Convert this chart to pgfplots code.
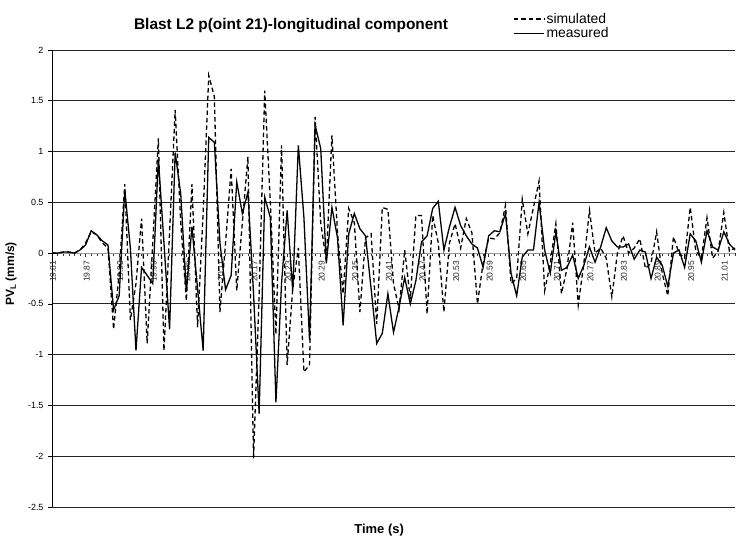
\documentclass[border=0pt]{standalone}
\usepackage{fontspec}
\setmainfont{Liberation Sans}
\usepackage{pgfplots}
\usepackage{pgfplotstable}
\pgfplotsset{compat=1.18}

% columns: category index (0 = 19.81 s, step 0.01 s), simulated, measured
\pgfplotstableread{
i   sim    meas
0   0.00   0.00
1   0.00   0.00
2   0.01   0.01
3   0.01   0.01
4   0.00   0.00
5   0.03   0.03
6   0.10   0.08
7   0.21   0.22
8   0.18   0.18
9   0.10   0.12
10  0.05   0.08
11  -0.75  -0.56
12  -0.20  -0.42
13  0.68   0.62
14  -0.66  0.05
15  -0.30  -0.96
16  0.34   -0.14
17  -0.89  -0.22
18  0.10   -0.30
19  1.13   0.93
20  -0.96  0.10
21  0.20   -0.75
22  1.41   0.99
23  0.30   0.58
24  -0.47  -0.38
25  0.68   0.26
26  -0.73  -0.35
27  0.40   -0.96
28  1.75   1.14
29  1.54   1.09
30  -0.58  0.10
31  0.10   -0.36
32  0.83   -0.22
33  -0.37  0.70
34  0.30   0.39
35  0.95   0.60
36  -2.02  -0.40
37  -0.40  -1.58
38  1.60   0.55
39  0.50   0.35
40  -0.80  -1.47
41  1.06   -0.30
42  -1.10  0.42
43  -0.35  -0.37
44  0.05   1.06
45  -1.17  0.35
46  -1.10  -0.86
47  1.34   1.26
48  0.30   1.03
49  -0.08  -0.10
50  1.16   0.45
51  0.20   0.15
52  -0.40  -0.71
53  0.44   0.19
54  0.30   0.39
55  -0.58  0.24
56  0.15   0.17
57  0.19   -0.35
58  -0.70  -0.89
59  0.45   -0.79
60  0.43   -0.40
61  -0.30  -0.78
62  -0.55  -0.53
63  0.03   -0.24
64  -0.45  -0.50
65  0.37   -0.27
66  0.37   0.11
67  -0.60  0.17
68  0.37   0.44
69  0.10   0.51
70  -0.58  0.03
71  0.10   0.26
72  0.29   0.45
73  0.05   0.27
74  0.34   0.17
75  0.20   0.09
76  -0.50  0.05
77  -0.10  -0.14
78  0.15   0.17
79  0.14   0.22
80  0.20   0.21
81  0.47   0.39
82  -0.30  -0.20
83  -0.25  -0.42
84  0.53   -0.04
85  0.19   0.03
86  0.45   0.03
87  0.71   0.50
88  -0.37  0.03
89  -0.10  -0.20
90  0.29   0.21
91  -0.40  -0.17
92  -0.15  -0.14
93  0.30   -0.02
94  -0.51  -0.25
95  -0.10  -0.12
96  0.42   0.06
97  0.00   -0.09
98  0.05   0.06
99  -0.05  0.25
100 -0.43  0.12
101 0.00   0.06
102 0.17   0.06
103 0.00   0.09
104 0.05   -0.06
105 0.14   0.03
106 -0.15  0.01
107 -0.10  -0.25
108 0.21   -0.04
109 -0.20  -0.12
110 -0.42  -0.33
111 0.16   0.00
112 0.00   0.03
113 -0.05  -0.14
114 0.45   0.19
115 0.02   0.12
116 -0.05  -0.09
117 0.35   0.22
118 -0.05  0.06
119 0.02   0.03
120 0.40   0.21
121 0.02   0.09
122 0.05   0.03
}\blastdata

\begin{document}
\begin{tikzpicture}
\begin{axis}[
    scale only axis,
    width=683bp, height=457bp,
    xmin=0, xmax=122,
    ymin=-2.5, ymax=2,
    axis y line=left,
    axis x line=middle,
    axis line style={-},
    x axis line style={gray!80, line width=1pt},
    y axis line style={black, line width=0.7pt},
    major tick length=4bp,
    minor tick length=3bp,
    hide obscured x ticks=false,
    xtick={0,6,...,120},
    xticklabels={19.81,19.87,19.93,19.99,20.05,20.11,20.17,20.23,20.29,20.35,20.41,20.47,20.53,20.59,20.65,20.71,20.77,20.83,20.89,20.95,21.01},
    minor xtick={0,1,...,122},
    x tick style={black!80, line width=0.5pt},
    xtick align=outside,
    ytick align=outside,
    xticklabel style={rotate=90, anchor=east, yshift=-1bp, font=\fontsize{8.5}{9}\selectfont, text=black!85},
    ytick={-2.5,-2,...,2},
    yticklabels={-2.5,-2,-1.5,-1,-0.5,0,0.5,1,1.5,2},
    y tick style={black, line width=0.6pt},
    yticklabel style={font=\fontsize{9}{10}\selectfont, xshift=-1bp},
    ymajorgrids,
    major grid style={black!85, line width=0.8pt},
    clip=false,
    legend style={draw=none, fill=none, at={(axis description cs:0.675,1.083)}, anchor=north west,
        font=\fontsize{14}{15}\selectfont, row sep=1bp, inner sep=0pt,
        nodes={inner xsep=2bp, inner ysep=1bp}},
    legend cell align=left,
    legend image code/.code={\draw[#1] (0bp,0bp) -- (30bp,0bp);},
]
\addplot[black, line width=1.3pt, dash pattern=on 4.5pt off 3pt] table[x=i, y=sim] {\blastdata};
\addplot[black, line width=1.3pt] table[x=i, y=meas] {\blastdata};
\legend{simulated, measured}
\node[font=\bfseries\fontsize{15.5}{17}\selectfont] at (axis description cs:0.35,1.0525) {Blast L2 p(oint 21)-longitudinal component};
\node[font=\bfseries\fontsize{13}{14}\selectfont] at (axis description cs:0.479,-0.05) {Time (s)};
\node[font=\bfseries\fontsize{12}{13}\selectfont, rotate=90] at (axis description cs:-0.06,0.51) {PV\textsubscript{L} (mm/s)};
\end{axis}
\pgfresetboundingbox
\path[use as bounding box] (-52bp,-32bp) rectangle (685bp,507bp);
\end{tikzpicture}
\end{document}
